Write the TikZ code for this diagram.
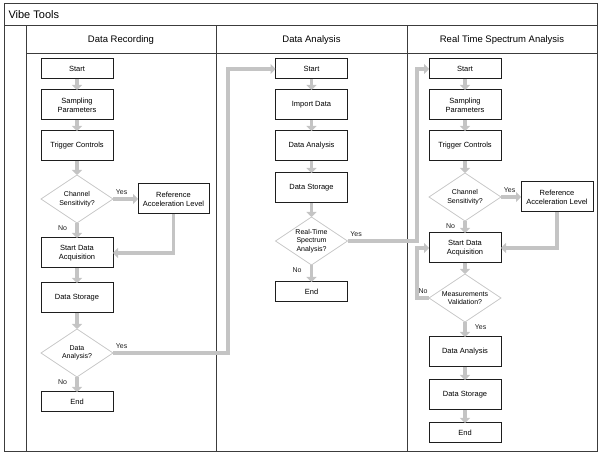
\documentclass[tikz,border=0pt]{standalone}
\usepackage{fontspec}
\setmainfont{Liberation Sans}
\usepackage{xcolor}
\usepackage{tikz}
\usetikzlibrary{arrows.meta,positioning,shapes.geometric}
\definecolor{framegrey}{RGB}{60,60,60}
\definecolor{flowgrey}{RGB}{196,196,196}
\definecolor{diamondgrey}{RGB}{200,200,200}
\definecolor{boxblack}{RGB}{30,30,30}
\tikzset{
  procbox/.style={rectangle,draw=boxblack,line width=1pt,fill=white,
    minimum width=72pt,minimum height=30pt,inner sep=1pt,outer sep=0pt,
    align=center,font=\fontsize{7.5}{9}\selectfont},
  termbox/.style={procbox,minimum height=20pt},
  decision/.style={diamond,draw=diamondgrey,line width=0.8pt,fill=white,
    aspect=1.5,minimum width=72pt,minimum height=48pt,inner sep=0pt,
    outer sep=0pt,align=center,font=\fontsize{7}{8.5}\selectfont},
  flow/.style={-{Triangle[length=5pt,width=10pt]},line width=3.8pt,draw=flowgrey},
  lanetitle/.style={font=\fontsize{9.5}{11}\selectfont},
  smalllabel/.style={font=\fontsize{7}{8}\selectfont,inner sep=1pt,text=boxblack},
  frameline/.style={draw=framegrey,line width=1pt}
}

\begin{document}
\begin{tikzpicture}[x=1pt,y=1pt]
  \useasboundingbox (0,0) rectangle (600,455);
  \draw[frameline] (4,3) rectangle (597,451);
  \draw[frameline] (4,429) -- (597,429) (26,429) -- (26,3) (26,401) -- (597,401)
    (216,429) -- (216,3) (407,429) -- (407,3);
  \node[anchor=west,font=\fontsize{11}{13}\selectfont] (tooltitle) at (5,440) {Vibe Tools};
  \node[lanetitle] (lane1) at (121,415) {Data Recording};
  \node[lanetitle] (lane2) at (311.5,415) {Data Analysis};
  \node[lanetitle] (lane3) at (502,415) {Real Time Spectrum Analysis};

  \node[termbox] (start1) at (77,386) {Start};
  \node[procbox,below=11pt of start1] (samp1) {Sampling\\Parameters};
  \node[procbox,below=11pt of samp1] (trig1) {Trigger Controls};
  \node[decision,below=14pt of trig1] (cs1) {Channel\\Sensitivity?};
  \node[procbox,right=25pt of cs1,minimum width=71pt] (ref1) {Reference\\Acceleration Level};
  \node[procbox,below=15pt of cs1] (sda1) {Start Data\\Acquisition};
  \node[procbox,below=15pt of sda1] (ds1) {Data Storage};
  \node[decision,below=16pt of ds1] (da1) {Data\\Analysis?};
  \node[termbox,below=15pt of da1] (end1) {End};

  \node[termbox] (start2) at (311.5,386) {Start};
  \node[procbox,below=11pt of start2] (imp2) {Import Data};
  \node[procbox,below=11pt of imp2] (an2) {Data Analysis};
  \node[procbox,below=12pt of an2] (ds2) {Data Storage};
  \node[decision,below=14pt of ds2] (rt2) {Real-Time\\Spectrum\\Analysis?};
  \node[termbox,below=17pt of rt2] (end2) {End};

  \node[termbox] (start3) at (465,386) {Start};
  \node[procbox,below=11pt of start3] (samp3) {Sampling\\Parameters};
  \node[procbox,below=11pt of samp3] (trig3) {Trigger Controls};
  \node[decision,below=12pt of trig3] (cs3) {Channel\\Sensitivity?};
  \node[procbox,right=20pt of cs3] (ref3) {Reference\\Acceleration Level};
  \node[procbox,below=12pt of cs3] (sda3) {Start Data\\Acquisition};
  \node[decision,below=11pt of sda3] (mv3) {Measurements\\Validation?};
  \node[procbox,below=15pt of mv3] (an3) {Data Analysis};
  \node[procbox,below=13pt of an3] (ds3) {Data Storage};
  \node[termbox,below=13pt of ds3] (end3) {End};

  \coordinate (j1) at (228,386);
  \coordinate (j2) at (417,386);
  \coordinate (j3) at (417,157);

  \draw[flow] (start1) -- (samp1);
  \draw[flow] (samp1) -- (trig1);
  \draw[flow] (trig1) -- (cs1);
  \draw[flow] (cs1) -- node[smalllabel,above right,pos=0,yshift=2pt]{Yes} (ref1);
  \draw[flow] (cs1) -- node[smalllabel,below left,pos=0,xshift=-7pt]{No} (sda1);
  \draw[flow] (ref1) |- (sda1);
  \draw[flow] (sda1) -- (ds1);
  \draw[flow] (ds1) -- (da1);
  \draw[flow] (da1) -- node[smalllabel,below left,pos=0,xshift=-7pt]{No} (end1);
  \draw[flow] (da1) -| node[smalllabel,above right,pos=0,yshift=2pt]{Yes} (j1) -- (start2);

  \draw[flow] (start2) -- (imp2);
  \draw[flow] (imp2) -- (an2);
  \draw[flow] (an2) -- (ds2);
  \draw[flow] (ds2) -- (rt2);
  \draw[flow] (rt2) -- node[smalllabel,below left,pos=0,xshift=-7pt]{No} (end2);
  \draw[flow] (rt2) -| node[smalllabel,above right,pos=0,yshift=2pt]{Yes} (j2) -- (start3);

  \draw[flow] (start3) -- (samp3);
  \draw[flow] (samp3) -- (trig3);
  \draw[flow] (trig3) -- (cs3);
  \draw[flow] (cs3) -- node[smalllabel,above right,pos=0,yshift=2pt]{Yes} (ref3);
  \draw[flow] (cs3) -- node[smalllabel,below left,pos=0,xshift=-7pt]{No} (sda3);
  \draw[flow] (ref3) |- (sda3);
  \draw[flow] (sda3) -- (mv3);
  \draw[flow] (mv3) -- node[smalllabel,above,yshift=2pt]{No} (j3) |- (sda3);
  \draw[flow] (mv3) -- node[smalllabel,below right,pos=0,xshift=7pt]{Yes} (an3);
  \draw[flow] (an3) -- (ds3);
  \draw[flow] (ds3) -- (end3);
\end{tikzpicture}
\end{document}
